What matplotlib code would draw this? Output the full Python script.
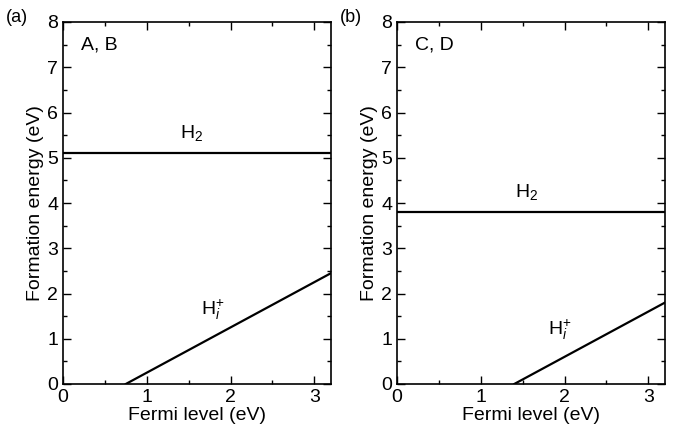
import numpy as np
import matplotlib.pyplot as plt
from matplotlib.ticker import MultipleLocator

plt.rcParams['font.family'] = ['Liberation Sans', 'DejaVu Sans']
plt.rcParams['mathtext.fontset'] = 'custom'
plt.rcParams['mathtext.rm'] = 'Liberation Sans'
plt.rcParams['mathtext.it'] = 'Liberation Sans:italic'

# data
panels = ['(a)', '(b)']
groups = ['A, B', 'C, D']
h2_energy = [5.11, 3.81]
hi_x0 = [0.75, 1.40]      # Fermi level where H_i+ formation energy is zero
hi_slope = [1.0, 1.0]
x_max = 3.2

fig = plt.figure(figsize=(6.73, 4.29), dpi=100)
axes_pos = [[63/673, 45/429, 268/673, 362/429],
            [397/673, 45/429, 268/673, 362/429]]

h2_lbl = [(1.54, 5.55), (1.55, 4.25)]
hi_lbl = [(1.79, 1.63), (1.94, 1.19)]

for i in range(2):
    ax = fig.add_axes(axes_pos[i])
    ef = np.array([hi_x0[i], x_max])
    ax.axhline(h2_energy[i], color='black', lw=1.6)
    ax.plot(ef, hi_slope[i] * (ef - hi_x0[i]), color='black', lw=1.6)

    ax.set_xlim(0, x_max)
    ax.set_ylim(0, 8)
    ax.xaxis.set_major_locator(MultipleLocator(1))
    ax.xaxis.set_minor_locator(MultipleLocator(0.5))
    ax.yaxis.set_major_locator(MultipleLocator(1))
    ax.yaxis.set_minor_locator(MultipleLocator(0.5))
    ax.tick_params(which='both', direction='in', top=True, right=True,
                   labelsize=14, width=1.0)
    ax.tick_params(which='major', length=6)
    ax.tick_params(which='minor', length=3)
    for s in ax.spines.values():
        s.set_linewidth(1.2)

    ax.set_xlabel('Fermi level (eV)', fontsize=14, labelpad=1)
    ax.set_ylabel('Formation energy (eV)', fontsize=14, labelpad=2)

    ax.text(0.22, 7.5, groups[i], fontsize=14, va='center')
    ax.text(*h2_lbl[i], r'H$_2$', fontsize=14, ha='center', va='center')
    ax.text(*hi_lbl[i], r'H$_{\mathit{i}}^{+}$', fontsize=14, ha='center', va='center')
    fig.text(axes_pos[i][0] - 57/673, 1 - 17/429, panels[i], fontsize=13,
             va='center')

fig.savefig('out.png', dpi=100)
